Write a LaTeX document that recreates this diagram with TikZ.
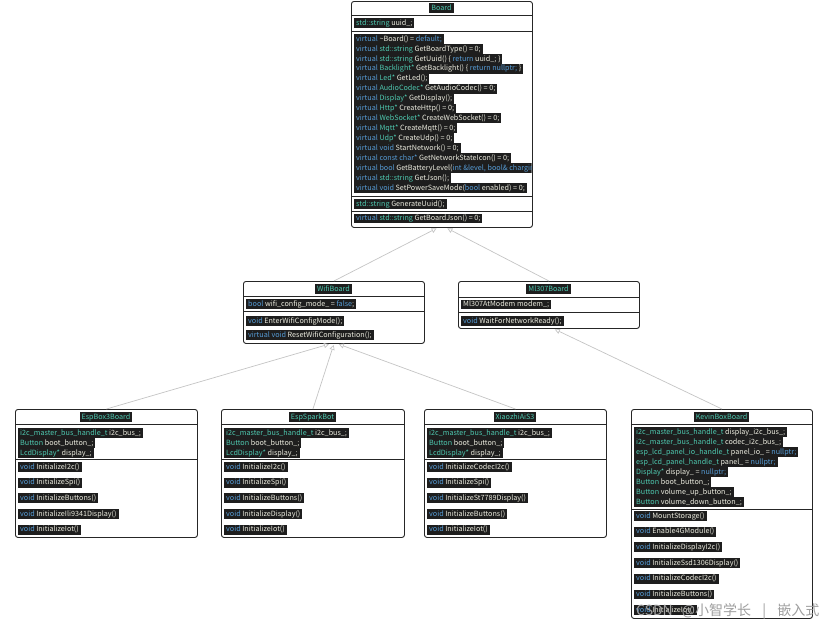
\documentclass[tikz,border=0pt]{standalone}
\usepackage{fontspec}
\usepackage{xcolor}
\usetikzlibrary{arrows.meta,positioning}
\newfontfamily\codefont{Noto Sans CJK SC}
\definecolor{codebg}{HTML}{1E1E1E}
\definecolor{kwcol}{HTML}{569CD6}
\definecolor{tycol}{HTML}{4EC9B0}
\definecolor{txcol}{HTML}{ECECDF}
\definecolor{titlecol}{HTML}{4EC9B0}
\definecolor{linkcol}{HTML}{C4C4C4}
\newcommand{\kwc}[1]{\textcolor{kwcol}{#1}}
\newcommand{\tyc}[1]{\textcolor{tycol}{#1}}

\begin{document}
\begin{tikzpicture}[x=1pt,y=-1pt,
    classbox/.style={draw=black!85, line width=0.9pt, rounded corners=2.5pt, fill=white, inner sep=0pt, anchor=north west},
    hl/.style={fill=codebg, text=txcol, anchor=west, inner xsep=2pt, inner ysep=0.2pt, text height=6.9pt, text depth=2.6pt, font=\codefont\fontsize{7.2}{8}\selectfont},
    ttl/.style={hl, anchor=center, text=titlecol},
    sep/.style={draw=black!85, line width=0.8pt},
    inherit/.style={draw=linkcol, line width=0.7pt, shorten >=1pt, -{Triangle[open, length=5pt, width=5pt]}}]
        \useasboundingbox (0,0) rectangle (828,630);
        % Board
        \node[classbox, minimum width=181pt, minimum height=226pt] (board) at (351,1) {};
        \draw[sep] (351,15) -- (532,15);
        \draw[sep] (351,31) -- (532,31);
        \draw[sep] (351,196) -- (532,196);
        \draw[sep] (351,211) -- (532,211);
        \node[ttl] (boardT) at (441.5,8) {Board};
        \node[hl] (boardA) at (354,23) {\tyc{std::string} uuid\_;};
        \begin{scope}
            \clip (351,1) rectangle (531.5,228);
            \foreach \t [count=\i] in {
                {\kwc{virtual} \textasciitilde Board() = \kwc{default;}},
                {\kwc{virtual} \tyc{std::string} GetBoardType() = 0;},
                {\kwc{virtual} \tyc{std::string} GetUuid() \{ \kwc{return} uuid\_; \}},
                {\kwc{virtual} \tyc{Backlight*} GetBacklight() \{ \kwc{return nullptr;} \}},
                {\kwc{virtual} \tyc{Led*} GetLed();},
                {\kwc{virtual} \tyc{AudioCodec*} GetAudioCodec() = 0;},
                {\kwc{virtual} \tyc{Display*} GetDisplay();},
                {\kwc{virtual} \tyc{Http*} CreateHttp() = 0;},
                {\kwc{virtual} \tyc{WebSocket*} CreateWebSocket() = 0;},
                {\kwc{virtual} \tyc{Mqtt*} CreateMqtt() = 0;},
                {\kwc{virtual} \tyc{Udp*} CreateUdp() = 0;},
                {\kwc{virtual void} StartNetwork() = 0;},
                {\kwc{virtual const char*} GetNetworkStateIcon() = 0;},
                {\kwc{virtual bool} GetBatteryLevel(\kwc{int \&level, bool\& charging}) = 0;},
                {\kwc{virtual} \tyc{std::string} GetJson();},
                {\kwc{virtual void} SetPowerSaveMode(\kwc{bool} enabled) = 0;}}
                \node[hl] (boardM\i) at (354,29.07+9.93*\i) {\t};
        \end{scope}
        \node[hl] (boardP) at (354,204) {\tyc{std::string} GenerateUuid();};
        \node[hl] (boardJ) at (354,218.5) {\kwc{virtual} \tyc{std::string} GetBoardJson() = 0;};

        % WifiBoard
        \node[classbox, minimum width=181pt, minimum height=62pt] (wifiBoard) at (243,281) {};
        \draw[sep] (243,296) -- (424,296);
        \draw[sep] (243,311) -- (424,311);
        \node[ttl] (wifiT) at (333.5,289) {WifiBoard};
        \node[hl] (wifiA) at (246,304) {\kwc{bool} wifi\_config\_mode\_ = \kwc{false};};
        \node[hl] (wifiM1) at (246,321) {\kwc{void} EnterWifiConfigMode();};
        \node[hl] (wifiM2) at (246,335) {\kwc{virtual void} ResetWifiConfiguration();};

        % Ml307Board
        \node[classbox, minimum width=181pt, minimum height=47pt] (ml307Board) at (458,281) {};
        \draw[sep] (458,297) -- (639,297);
        \draw[sep] (458,312) -- (639,312);
        \node[ttl] (ml307T) at (548.5,289) {Ml307Board};
        \node[hl] (ml307A) at (461,304.5) {Ml307AtModem modem\_;};
        \node[hl] (ml307M) at (461,321) {\kwc{void} WaitForNetworkReady();};

        % EspBox3Board
        \node[classbox, minimum width=182pt, minimum height=128pt] (espBox3) at (15,409) {};
        \draw[sep] (15,424) -- (197,424);
        \draw[sep] (15,459) -- (197,459);
        \node[ttl] (espBox3T) at (106,417) {EspBox3Board};
        \node[hl] (espBox3A1) at (18,433) {\tyc{i2c\_master\_bus\_handle\_t} i2c\_bus\_;};
        \node[hl] (espBox3A2) at (18,443) {\tyc{Button} boot\_button\_;};
        \node[hl] (espBox3A3) at (18,453) {\tyc{LcdDisplay*} display\_;};
        \foreach \m [count=\i] in {InitializeI2c(), InitializeSpi(), InitializeButtons(), InitializeIli9341Display(), InitializeIot()}
            \node[hl] (espBox3M\i) at (18,451.3+15.7*\i) {\kwc{void} \m};

        % EspSparkBot
        \node[classbox, minimum width=183pt, minimum height=128pt] (espSpark) at (221,409) {};
        \draw[sep] (221,424) -- (404,424);
        \draw[sep] (221,459) -- (404,459);
        \node[ttl] (espSparkT) at (312.5,417) {EspSparkBot};
        \node[hl] (espSparkA1) at (224,433) {\tyc{i2c\_master\_bus\_handle\_t} i2c\_bus\_;};
        \node[hl] (espSparkA2) at (224,443) {\tyc{Button} boot\_button\_;};
        \node[hl] (espSparkA3) at (224,453) {\tyc{LcdDisplay*} display\_;};
        \foreach \m [count=\i] in {InitializeI2c(), InitializeSpi(), InitializeButtons(), InitializeDisplay(), InitializeIot()}
            \node[hl] (espSparkM\i) at (224,451.3+15.7*\i) {\kwc{void} \m};

        % XiaozhiAiS3
        \node[classbox, minimum width=182pt, minimum height=128pt] (xiaozhi) at (424,409) {};
        \draw[sep] (424,424) -- (606,424);
        \draw[sep] (424,459) -- (606,459);
        \node[ttl] (xiaozhiT) at (515,417) {XiaozhiAiS3};
        \node[hl] (xiaozhiA1) at (427,433) {\tyc{i2c\_master\_bus\_handle\_t} i2c\_bus\_;};
        \node[hl] (xiaozhiA2) at (427,443) {\tyc{Button} boot\_button\_;};
        \node[hl] (xiaozhiA3) at (427,453) {\tyc{LcdDisplay*} display\_;};
        \foreach \m [count=\i] in {InitializeCodecI2c(), InitializeSpi(), InitializeSt7789Display(), InitializeButtons(), InitializeIot()}
            \node[hl] (xiaozhiM\i) at (427,451.3+15.7*\i) {\kwc{void} \m};

        % KevinBoxBoard
        \node[classbox, minimum width=181pt, minimum height=209pt] (kevinBox) at (631,409) {};
        \draw[sep] (631,424) -- (812,424);
        \draw[sep] (631,509) -- (812,509);
        \node[ttl] (kevinBoxT) at (721.5,417) {KevinBoxBoard};
        \node[hl] (kevinBoxA1) at (634,432) {\tyc{i2c\_master\_bus\_handle\_t} display\_i2c\_bus\_;};
        \node[hl] (kevinBoxA2) at (634,442) {\tyc{i2c\_master\_bus\_handle\_t} codec\_i2c\_bus\_;};
        \node[hl] (kevinBoxA3) at (634,452) {\tyc{esp\_lcd\_panel\_io\_handle\_t} panel\_io\_ = \kwc{nullptr;}};
        \node[hl] (kevinBoxA4) at (634,462) {\tyc{esp\_lcd\_panel\_handle\_t} panel\_ = \kwc{nullptr;}};
        \node[hl] (kevinBoxA5) at (634,472) {\tyc{Display*} display\_ = \kwc{nullptr;}};
        \node[hl] (kevinBoxA6) at (634,482) {\tyc{Button} boot\_button\_;};
        \node[hl] (kevinBoxA7) at (634,492) {\tyc{Button} volume\_up\_button\_;};
        \node[hl] (kevinBoxA8) at (634,502) {\tyc{Button} volume\_down\_button\_;};
        \foreach \m [count=\i] in {MountStorage(), Enable4GModule(), InitializeDisplayI2c(), InitializeSsd1306Display(), InitializeCodecI2c(), InitializeButtons(), InitializeIot()}
            \node[hl] (kevinBoxM\i) at (634,500.3+15.7*\i) {\kwc{void} \m};

        % inheritance
        \draw[inherit] (wifiBoard.north) -- ([xshift=-4.5pt]board.south);
        \draw[inherit] (ml307Board.north) -- ([xshift=4.5pt]board.south);
        \draw[inherit] (espBox3.north) -- ([xshift=-4pt]wifiBoard.south);
        \draw[inherit] (espSpark.north) -- (wifiBoard.south);
        \draw[inherit] (xiaozhi.north) -- ([xshift=4pt]wifiBoard.south);
        \draw[inherit] (kevinBox.north) -- ([xshift=5pt]ml307Board.south);

        % watermark
        \node[anchor=west, text=gray!75, inner sep=0pt, font=\codefont\fontsize{14}{16}\selectfont] (mark) at (636,612) {CSDN\hspace{6pt} @小智学长\hspace{8pt} |\hspace{8pt} 嵌入式};
\end{tikzpicture}
\end{document}
